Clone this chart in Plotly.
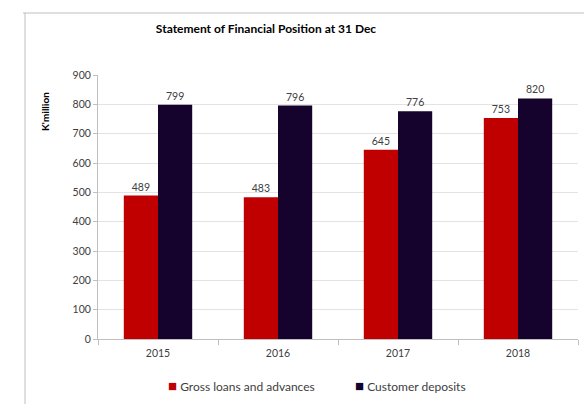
import plotly.graph_objects as go

years = ["2015", "2016", "2017", "2018"]
gross_loans = [489, 483, 645, 753]
customer_deposits = [799, 796, 776, 820]
y_ticks = [0, 100, 200, 300, 400, 500, 600, 700, 800, 900]
series_names = ["Gross loans and advances", "Customer deposits"]

FONT = "Lato, 'Liberation Sans', sans-serif"
RED = "#C00000"
DARK = "#15032D"

fig = go.Figure()
fig.add_trace(go.Bar(
    x=years, y=gross_loans, name=series_names[0],
    marker=dict(color=RED, line=dict(width=0)),
    text=[str(v) for v in gross_loans], textposition="outside",
    textfont=dict(size=10.5, color="#404040", family=FONT), cliponaxis=False,
))
fig.add_trace(go.Bar(
    x=years, y=customer_deposits, name=series_names[1],
    marker=dict(color=DARK, line=dict(width=0)),
    text=[str(v) for v in customer_deposits], textposition="outside",
    textfont=dict(size=10.5, color="#404040", family=FONT), cliponaxis=False,
))

def px_x(px):
    return (px - 98) / 480

def px_y(py):
    return (339 - py) / 264

legend_ann = [
    dict(text=f"<span style='color:{RED};font-size:15px'>■</span> {series_names[0]}", xref="paper", yref="paper",
         x=px_x(166), y=px_y(385), xanchor="left", yanchor="middle", showarrow=False,
         font=dict(size=12, color="#404040", family=FONT)),
    dict(text=f"<span style='color:{DARK};font-size:15px'>■</span> {series_names[1]}", xref="paper", yref="paper",
         x=px_x(353), y=px_y(385), xanchor="left", yanchor="middle", showarrow=False,
         font=dict(size=12, color="#404040", family=FONT)),
]

fig.update_layout(
    width=584, height=404,
    margin=dict(l=98, r=6, t=75, b=65),
    paper_bgcolor="white", plot_bgcolor="white",
    font=dict(family=FONT, size=10, color="#595959"),
    barmode="group", bargap=0.43, bargroupgap=0,
    showlegend=False,
    title=dict(text="<b>Statement of Financial Position at 31 Dec</b>",
               x=266 / 584, xanchor="center", y=1 - 29 / 404, yanchor="middle",
               font=dict(size=12, color="#000000", family=FONT)),
    xaxis=dict(type="category", showline=True, linecolor="#BFBFBF", linewidth=1,
               ticks="outside", tickson="boundaries", ticklen=5, tickcolor="#BFBFBF",
               showgrid=False, tickfont=dict(size=10.5, color="#404040"),
               ticklabelstandoff=4),
    yaxis=dict(range=[0, 900], tickvals=y_ticks, showline=True, linecolor="#BFBFBF",
               linewidth=1, ticks="outside", ticklen=4, tickcolor="#BFBFBF",
               showgrid=True, gridcolor="#E3E3E3", gridwidth=1, zeroline=False,
               tickfont=dict(size=10.5, color="#404040")),
    annotations=[dict(text="<b>K'million</b>", textangle=-90, xref="paper", yref="paper",
                      x=px_x(45), y=px_y(112), xanchor="center", yanchor="middle",
                      showarrow=False, font=dict(size=10, color="#000000", family=FONT))]
                + legend_ann,
    shapes=[
        dict(type="line", xref="paper", yref="paper", x0=px_x(23), x1=px_x(600),
             y0=px_y(13), y1=px_y(13), line=dict(color="#BFBFBF", width=1)),
        dict(type="line", xref="paper", yref="paper", x0=px_x(25), x1=px_x(25),
             y0=px_y(13), y1=px_y(420), line=dict(color="#BFBFBF", width=1)),
    ],
)

fig.write_html("out.html")
